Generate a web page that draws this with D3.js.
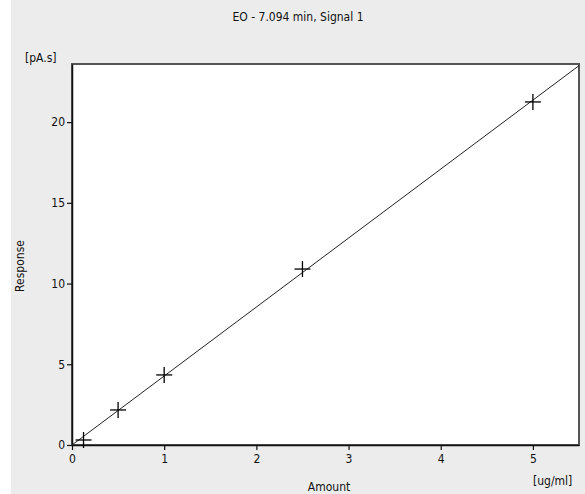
<!DOCTYPE html>
<html><head><meta charset="utf-8">
<script src="https://cdn.jsdelivr.net/npm/d3@7"></script>
<style>
html,body{margin:0;padding:0;background:#fff;}
svg{display:block;}
text{font-family:"DejaVu Sans Condensed","Liberation Sans",sans-serif;font-size:12px;fill:#111;}
</style></head>
<body>
<script>
const title = "EO - 7.094 min, Signal 1";
const amounts = [0.125, 0.5, 1, 2.5, 5];
const responses = [0.31, 2.17, 4.34, 10.9, 21.25];
const fitX = [0, 5.5];
const fitY = [0, 23.5];
const xTicks = [0, 1, 2, 3, 4, 5];
const yTicks = [0, 5, 10, 15, 20];
const xDomain = [0, 5.5];
const yDomain = [0, 23.6];

const W = 585, H = 494;
const svg = d3.select("body").append("svg").attr("width", W).attr("height", H);
svg.append("rect").attr("x", 11).attr("y", 0).attr("width", W - 11).attr("height", H).attr("fill", "#ececec");

const L = 72, R = 579, T = 64, B = 445;
const x = d3.scaleLinear().domain(xDomain).range([L, R]);
const y = d3.scaleLinear().domain(yDomain).range([B, T]);

svg.append("rect").attr("x", L).attr("y", T).attr("width", R - L).attr("height", B - T)
  .attr("fill", "#fff").attr("stroke", "#555").attr("stroke-width", 2);

const xAxis = svg.append("g").attr("transform", `translate(0,${B})`)
  .call(d3.axisBottom(x).tickValues(xTicks).tickFormat(d3.format("d")).tickSize(5).tickSizeOuter(0).tickPadding(4));
const yAxis = svg.append("g").attr("transform", `translate(${L},0)`)
  .call(d3.axisLeft(y).tickValues(yTicks).tickFormat(d3.format("d")).tickSize(5).tickSizeOuter(0).tickPadding(2));
[xAxis, yAxis].forEach(g => {
  g.select(".domain").attr("stroke", "#111").attr("stroke-width", 1.5);
  g.selectAll(".tick line").attr("stroke", "#111").attr("stroke-width", 1.2);
  g.selectAll("text").attr("font-size", 12).attr("font-family", null).style("fill", "#111");
});

// fitted line
svg.append("line")
  .attr("x1", x(fitX[0])).attr("y1", y(fitY[0]))
  .attr("x2", x(fitX[1])).attr("y2", y(fitY[1]))
  .attr("stroke", "#222").attr("stroke-width", 1);

// markers
const pts = amounts.map((a, i) => [a, responses[i]]);
const m = 8;
const mk = svg.append("g").attr("stroke", "#000").attr("stroke-width", 1.3);
pts.forEach(([a, r]) => {
  mk.append("line").attr("x1", x(a) - m).attr("x2", x(a) + m).attr("y1", y(r)).attr("y2", y(r));
  mk.append("line").attr("x1", x(a)).attr("x2", x(a)).attr("y1", y(r) - m).attr("y2", y(r) + m);
});

svg.append("text").attr("x", 298).attr("y", 21).attr("text-anchor", "middle").text(title);
svg.append("text").attr("x", 25).attr("y", 62).text("[pA.s]");
svg.append("text").attr("transform", "translate(24,266) rotate(-90)").attr("text-anchor", "middle").text("Response");
svg.append("text").attr("x", 329).attr("y", 491).attr("text-anchor", "middle").text("Amount");
svg.append("text").attr("x", 533).attr("y", 485).text("[ug/ml]");
</script>
</body></html>
